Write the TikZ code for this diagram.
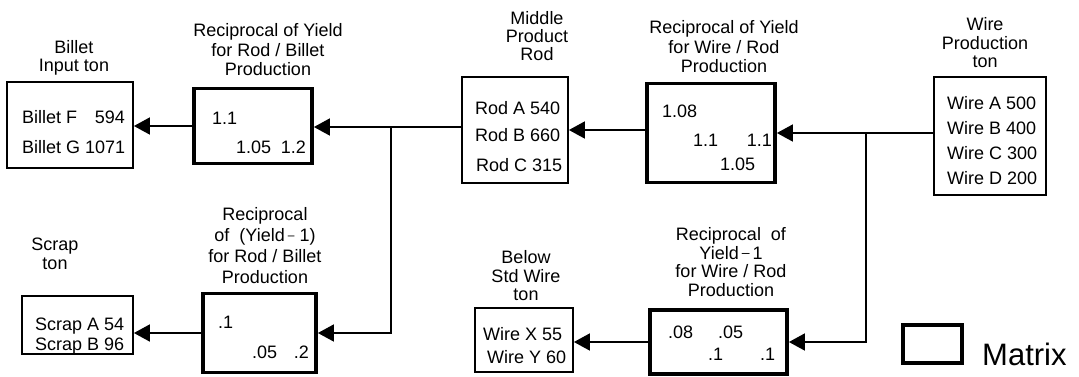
\documentclass[tikz,border=0pt]{standalone}
\usepackage{fontspec}
\setmainfont{Liberation Sans}
\usetikzlibrary{arrows.meta}
\begin{document}
\begin{tikzpicture}[x=1pt,y=-1pt,
  thinbox/.style={draw, line width=1.8pt, inner sep=0pt},
  thickbox/.style={draw, line width=3.8pt, inner sep=0pt},
  conn/.style={line width=1.8pt},
  arr/.style={line width=1.8pt, -{Triangle[length=16pt,width=17pt]}},
  txt/.style={inner sep=0pt, font=\fontsize{18}{19}\selectfont},
  ttl/.style={inner sep=0pt, align=center, font=\fontsize{18}{#1}\selectfont},
  ttl/.default=19.5
]
\useasboundingbox (0,0) rectangle (1079,376);

% ---------- boxes ----------
\node[thinbox, minimum width=126pt, minimum height=86pt] (billet) at (70,125) {};
\node[thickbox, minimum width=118pt, minimum height=75pt] (ybm) at (253,126) {};
\node[thinbox, minimum width=106pt, minimum height=106pt] (rod) at (515,130) {};
\node[thickbox, minimum width=128pt, minimum height=99pt] (ywr) at (711,133) {};
\node[thinbox, minimum width=112pt, minimum height=118pt] (wire) at (990,136) {};
\node[thinbox, minimum width=111pt, minimum height=58pt] (scrap) at (77.5,325) {};
\node[thickbox, minimum width=113pt, minimum height=79pt] (sb) at (259.5,333) {};
\node[thinbox, minimum width=98pt, minimum height=64pt] (bsw) at (524,340) {};
\node[thickbox, minimum width=137pt, minimum height=64pt] (sw) at (718.5,342) {};
\node[thickbox, line width=3.4pt, minimum width=59pt, minimum height=38pt] (legend) at (932.5,344) {};
\node[inner sep=0pt, anchor=base west, font=\fontsize{31}{33}\selectfont] (legendtxt) at (982,365) {Matrix};

% ---------- titles ----------
\node[ttl=18.5] (billetT) at (74,58) {Billet\\Input ton};
\node[ttl] (ybmT) at (268,50) {Reciprocal of Yield\\for Rod / Billet\\Production};
\node[ttl=18.3] (rodT) at (537,36) {Middle\\Product\\Rod};
\node[ttl] (ywrT) at (724,47) {Reciprocal of Yield\\for Wire / Rod\\Production};
\node[ttl=18.5] (wireT) at (985,43) {Wire\\Production\\ton};
\node[ttl] (scrapT) at (55,254) {Scrap\\ton};
\node[ttl=21] (sbT) at (265,246) {Reciprocal\\of\ \ (Yield\,\raisebox{0.3ex}{\fontsize{12}{12}\selectfont\textendash}\ 1)\\for Rod / Billet\\Production};
\node[ttl=18.5] (bswT) at (526,276) {Below\\Std Wire\\ton};
\node[ttl=18.5] (swT) at (731,262) {Reciprocal\ \ of\\Yield\,\raisebox{0.2ex}{\fontsize{14}{14}\selectfont\textendash}\,1\\for Wire / Rod\\Production};

% ---------- box contents ----------
\node[txt, anchor=base west] (bf) at (22,123.5) {Billet F};
\node[txt, anchor=base east] (bfv) at (125,123.5) {594};
\node[txt, anchor=base west] (bg) at (22,153.5) {Billet G 1071};

\node[txt, anchor=base west] (m11) at (212,124.5) {1.1};
\node[txt, anchor=base west] (m12) at (236,153.5) {1.05};
\node[txt, anchor=base east] (m13) at (306,153.5) {1.2};

\node[txt, anchor=base west] (ra) at (475,114) {Rod A 540};
\node[txt, anchor=base west] (rb) at (475,141.5) {Rod B 660};
\node[txt, anchor=base west] (rc) at (476,171) {Rod C 315};

\node[txt, anchor=base west] (w11) at (662,117.5) {1.08};
\node[txt, anchor=base west] (w12) at (693,146.5) {1.1};
\node[txt, anchor=base east] (w13) at (772,146.5) {1.1};
\node[txt, anchor=base west] (w14) at (720,170) {1.05};

\node[txt, anchor=base west] (wa) at (947,109) {Wire A 500};
\node[txt, anchor=base west] (wb) at (947,134) {Wire B 400};
\node[txt, anchor=base west] (wc) at (947,159) {Wire C 300};
\node[txt, anchor=base west] (wd) at (947,184) {Wire D 200};

\node[txt, anchor=base west] (sa) at (35,330.5) {Scrap A 54};
\node[txt, anchor=base west] (sbb) at (35,350.5) {Scrap B 96};

\node[txt, anchor=base west] (s11) at (218,328) {.1};
\node[txt, anchor=base west] (s12) at (252,358) {.05};
\node[txt, anchor=base east] (s13) at (309,358) {.2};

\node[txt, anchor=base west] (wx) at (483,340) {Wire X 55};
\node[txt, anchor=base west] (wy) at (487,363) {Wire Y 60};

\node[txt, anchor=base west] (t11) at (668,338.5) {.08};
\node[txt, anchor=base west] (t12) at (718,338.5) {.05};
\node[txt, anchor=base west] (t13) at (708,360.5) {.1};
\node[txt, anchor=base west] (t14) at (760,360.5) {.1};

% ---------- connectors ----------
\coordinate (j1) at (391,127);
\coordinate (j2) at (866,133);

\draw[conn] (rod.west |- j1) -- (j1);
\draw[arr] (j1) -- (ybm.east |- j1);
\draw[arr] (ybm.west) -- (billet.east |- ybm.west);
\draw[arr] (j1) |- (sb.east);
\draw[arr] (sb.west) -- (scrap.east |- sb.west);

\draw[arr] (ywr.west |- rod.east) -- (rod.east);
\draw[conn] (wire.west |- j2) -- (j2);
\draw[arr] (j2) -- (ywr.east |- j2);
\draw[arr] (j2) |- (sw.east);
\draw[arr] (sw.west) -- (bsw.east |- sw.west);
\end{tikzpicture}
\end{document}
